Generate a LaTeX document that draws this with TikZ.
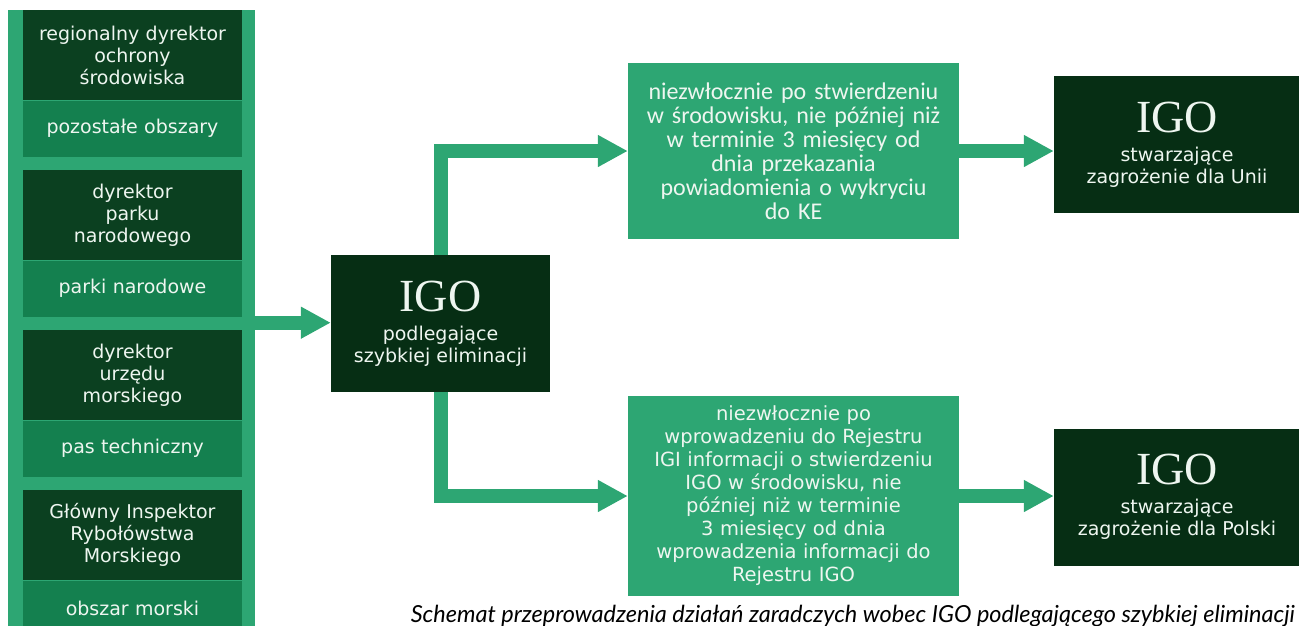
\documentclass[tikz,border=0pt]{standalone}
\usepackage{fontspec}
\setmainfont{DejaVu Sans}
\newfontfamily\carlitofont{Carlito}
\newfontfamily\igofont{Liberation Serif}
\newfontfamily\captionfont{Lato}
\usetikzlibrary{positioning,arrows.meta}
\definecolor{leafGreen}{HTML}{2DA673}
\definecolor{midGreen}{HTML}{14804F}
\definecolor{darkGreen}{HTML}{0B4020}
\definecolor{deepGreen}{HTML}{062E14}
\definecolor{paleText}{HTML}{EEF6F0}

\begin{document}
\begin{tikzpicture}[
  x=1pt, y=-1pt,
  node distance=0pt,
  every node/.style={font=\fontsize{19}{22}\selectfont, text=paleText, inner sep=0pt},
  auth/.style={rectangle, fill=darkGreen, align=center, minimum width=219pt, text width=215pt, minimum height=90pt},
  area/.style={rectangle, fill=midGreen, align=center, minimum width=219pt, text width=215pt, minimum height=56pt},
  deadline/.style={rectangle, fill=leafGreen, align=center, minimum width=331pt, text width=325pt},
  igobox/.style={rectangle, fill=deepGreen, align=center, minimum height=137pt},
  flow/.style={line width=14pt, leafGreen, -{Triangle[width=30pt,length=30pt]}}
]
\useasboundingbox (0,0) rectangle (1299,625);
\node[fill=leafGreen, minimum width=247pt, minimum height=625pt, anchor=north west] (col) at (8,10) {};
\node[auth, anchor=north] (rdos) at (132.5,10) {regionalny dyrektor\\ochrony\\środowiska};
\node[area, below=of rdos] (rdosArea) {pozostałe obszary};
\node[auth, anchor=north] (dpn) at (132.5,170) {dyrektor\\parku\\narodowego};
\node[area, below=of dpn] (dpnArea) {parki narodowe};
\node[auth, anchor=north] (dum) at (132.5,330) {dyrektor\\urzędu\\morskiego};
\node[area, below=of dum] (dumArea) {pas techniczny};
\node[auth, anchor=north] (girm) at (132.5,490) {Główny Inspektor\\Rybołówstwa\\Morskiego};
\node[area, below=of girm] (girmArea) {obszar morski};

\node[igobox, minimum width=219pt] (elim) at (440.5,323.5)
  {{\igofont\fontsize{46}{46}\selectfont IGO}\\[7pt]podlegające\\szybkiej eliminacji};
\node[deadline, minimum height=176pt, font=\carlitofont\fontsize{24}{24}\selectfont] (act1) at (793.5,151)
  {niezwłocznie po stwierdzeniu\\w środowisku, nie później niż\\w terminie 3 miesięcy od\\dnia przekazania\\powiadomienia o wykryciu\\do KE};
\node[deadline, minimum height=200pt, font=\fontsize{19.5}{23}\selectfont] (act2) at (793.5,496)
  {niezwłocznie po\\wprowadzeniu do Rejestru\\IGI informacji o stwierdzeniu\\IGO w środowisku, nie\\później niż w terminie\\3 miesięcy od dnia\\wprowadzenia informacji do\\Rejestru IGO};
\node[igobox, minimum width=246pt] (eu) at (1177,144.5)
  {{\igofont\fontsize{46}{46}\selectfont IGO}\\[7pt]stwarzające\\zagrożenie dla Unii};
\node[igobox, minimum width=246pt] (pl) at (1177,497)
  {{\igofont\fontsize{46}{46}\selectfont IGO}\\[7pt]stwarzające\\zagrożenie dla Polski};
\node[anchor=base east, text=black, font=\captionfont\itshape\fontsize{23.5}{23.5}\selectfont] (caption) at (1295,622)
  {Schemat przeprowadzenia działań zaradczych wobec IGO podlegającego szybkiej eliminacji};

\draw[flow] (col.east) -- (col.east -| elim.west);
\draw[flow] (elim.north) |- (act1.west);
\draw[flow] (elim.south) |- (act2.west);
\draw[flow] (act1.east) -- (act1.east -| eu.west);
\draw[flow] (act2.east) -- (act2.east -| pl.west);
\end{tikzpicture}
\end{document}
